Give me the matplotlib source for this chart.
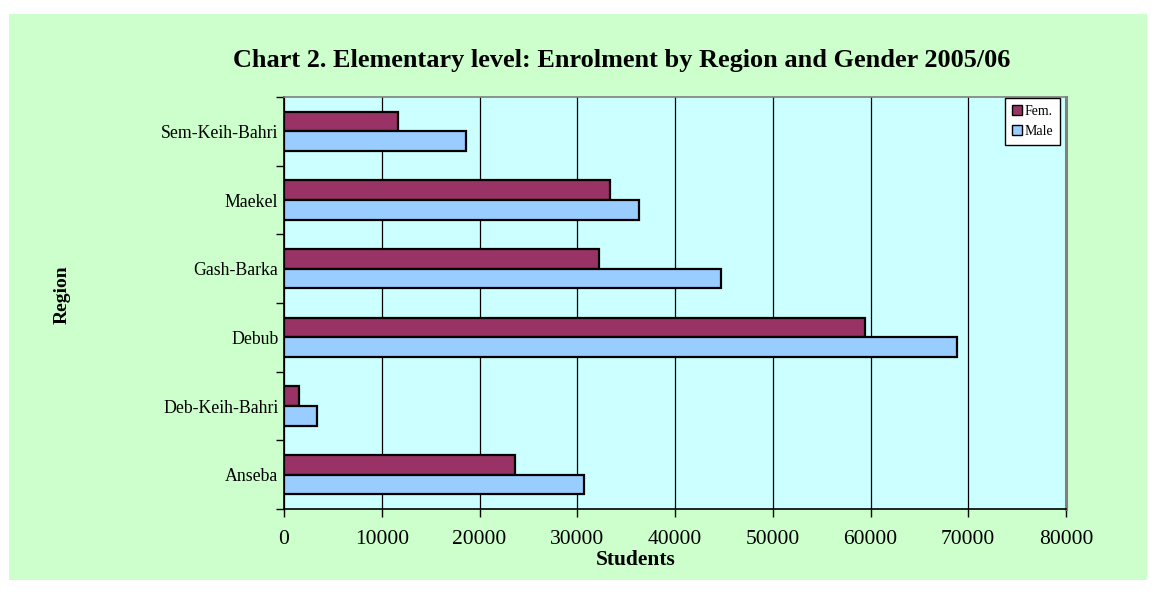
import matplotlib
matplotlib.use("Agg")
import matplotlib.pyplot as plt
from matplotlib.patches import Rectangle
import numpy as np

regions = ["Anseba", "Deb-Keih-Bahri", "Debub", "Gash-Barka", "Maekel", "Sem-Keih-Bahri"]
female = [23600, 1500, 59400, 32200, 33400, 11700]
male = [30700, 3400, 68800, 44700, 36300, 18600]
x_ticks = [0, 10000, 20000, 30000, 40000, 50000, 60000, 70000, 80000]

plt.rcParams['font.family'] = ['Liberation Serif', 'DejaVu Serif']

W, H = 1156, 594
fig = plt.figure(figsize=(W / 100, H / 100), dpi=100)
fig.patch.set_facecolor('white')
fig.patches.append(Rectangle((9 / W, 1 - 580 / H), (1147 - 9) / W, (580 - 14) / H,
                             transform=fig.transFigure, facecolor='#CCFFCC',
                             edgecolor='none', zorder=-10))

ax = fig.add_axes([284 / W, 1 - 509 / H, (1066 - 284) / W, (509 - 97) / H])
ax.set_facecolor('#CCFFFF')

y = np.arange(len(regions))
bh = 0.284
ax.barh(y + bh / 2, female, height=bh, color='#993366', edgecolor='black',
        linewidth=1.6, label='Fem.', zorder=3)
ax.barh(y - bh / 2, male, height=bh, color='#99CCFF', edgecolor='black',
        linewidth=1.6, label='Male', zorder=3)

ax.set_xlim(0, 80000)
ax.set_ylim(-0.5, len(regions) - 0.5)
ax.set_xticks(x_ticks)
ax.set_xticklabels([str(v) for v in x_ticks], fontsize=15.5)
ax.xaxis.grid(True, color='black', linewidth=0.9, zorder=1)
ax.set_axisbelow(True)

ax.set_yticks(np.arange(-0.5, len(regions), 1.0))
ax.set_yticklabels([])
ax.set_yticks(y, minor=True)
ax.set_yticklabels(regions, minor=True, fontsize=12.8)
ax.tick_params(axis='y', which='minor', length=0, pad=4)
ax.tick_params(axis='y', which='major', length=6, width=1, direction='out')
ax.tick_params(axis='x', which='major', length=6, width=1, direction='out', pad=9)

for s in ['left', 'bottom']:
    ax.spines[s].set_color('black')
    ax.spines[s].set_linewidth(1.2)
ax.spines['top'].set_color('#808080')
ax.spines['top'].set_linewidth(1.2)
ax.spines['right'].set_color('#808080')
ax.spines['right'].set_linewidth(2.2)

fig.text(622 / W, 1 - 61 / H, 'Chart 2. Elementary level: Enrolment by Region and Gender 2005/06',
         ha='center', va='center', fontsize=18.9, fontweight='bold')
fig.text(636 / W, 1 - 560 / H, 'Students', ha='center', va='center',
         fontsize=15.5, fontweight='bold')
fig.text(62 / W, 1 - 295 / H, 'Region', ha='center', va='center', rotation=90,
         fontsize=14, fontweight='bold')

leg = ax.legend(loc='upper right', bbox_to_anchor=((1060 - 284) / (1066 - 284), 1 - 1 / 412),
                fontsize=10, frameon=True, fancybox=False, handlelength=0.75,
                handleheight=0.75, handletextpad=0.15, borderpad=0.5,
                labelspacing=0.5, borderaxespad=0)
leg.get_frame().set_edgecolor('black')
leg.get_frame().set_facecolor('white')
leg.get_frame().set_linewidth(1.0)
leg.get_frame().set_alpha(1)
for p in leg.get_patches():
    p.set_linewidth(1.0)

fig.savefig('out.png', dpi=100, facecolor=fig.get_facecolor())
